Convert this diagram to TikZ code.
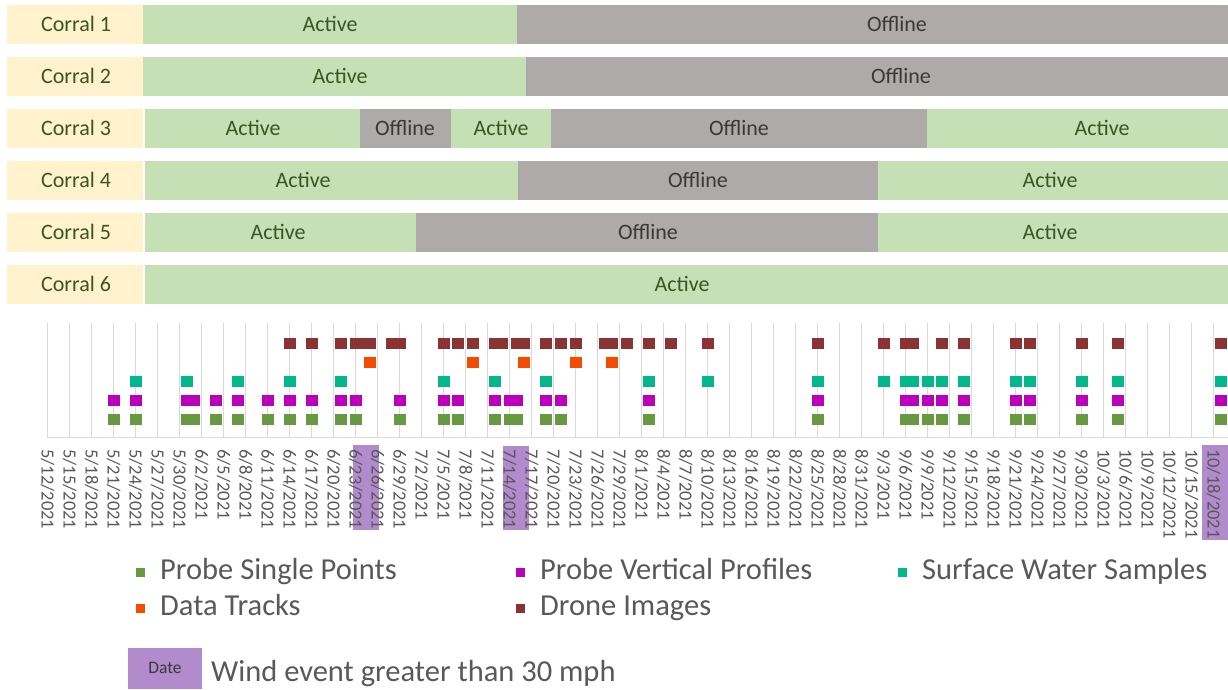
\documentclass[tikz,border=0pt]{standalone}
\usepackage{fontspec}
\setmainfont{Carlito}
\definecolor{activeg}{RGB}{197,224,180}
\definecolor{offg}{RGB}{174,170,170}
\definecolor{labely}{RGB}{255,242,204}
\definecolor{darkg}{RGB}{56,87,35}
\definecolor{offtxt}{RGB}{59,56,56}
\definecolor{cSingle}{RGB}{104,152,64}
\definecolor{cVert}{RGB}{187,0,187}
\definecolor{cSurf}{RGB}{0,184,138}
\definecolor{cTrack}{RGB}{245,75,0}
\definecolor{cDrone}{RGB}{139,51,51}
\definecolor{gridc}{RGB}{217,217,217}
\definecolor{axtxt}{RGB}{89,89,89}
\definecolor{windc}{RGB}{177,139,204}
\newcommand{\actseg}[4]{% row top, x1, x2, text x
  \fill[activeg] (#2,#1) rectangle (#3,#1+39);
  \node[bartext, text=darkg] (seg-#1-#2) at (#4,#1+19.5) {Active};}
\newcommand{\offseg}[4]{% row top, x1, x2, text x
  \fill[offg] (#2,#1) rectangle (#3,#1+39);
  \node[bartext, text=offtxt] (seg-#1-#2) at (#4,#1+19.5) {Offline};}
\begin{document}
\begin{tikzpicture}[x=1pt,y=-1pt,
  bartext/.style={font=\fontsize{22}{22}\selectfont, inner sep=0pt},
  datelab/.style={rotate=-90, anchor=west, inner sep=0pt, text=axtxt, font=\fontsize{18.5}{18.5}\selectfont},
  legtext/.style={anchor=base west, inner sep=0pt, text=axtxt, font=\fontsize{30.5}{30.5}\selectfont},
  gridline/.style={draw=gridc, line width=0.8pt}]
\useasboundingbox (0,0) rectangle (1228,689);
\fill[white] (0,0) rectangle (1228,689);

% ---- corral label boxes
\foreach \i in {1,...,6}{
  \pgfmathsetmacro{\top}{4.5+52*(\i-1)}
  \fill[labely] (7,\top) rectangle (143,\top+39);
  \node[bartext, text=darkg] (corral\i) at (76,\top+19.5) {Corral \i};
}
% ---- row 1
\actseg{4.5}{143}{517}{330}
\offseg{4.5}{517}{1228}{897}
% ---- row 2
\actseg{56.5}{143}{526}{340}
\offseg{56.5}{526}{1228}{901}
% ---- row 3
\actseg{108.5}{145}{360}{253}
\offseg{108.5}{360}{451}{405}
\actseg{108.5}{451}{551}{501}
\offseg{108.5}{551}{927}{739}
\actseg{108.5}{927}{1228}{1102}
% ---- row 4
\actseg{160.5}{145}{518}{303}
\offseg{160.5}{518}{878}{698}
\actseg{160.5}{878}{1228}{1050}
% ---- row 5
\actseg{212.5}{145}{416}{278}
\offseg{212.5}{416}{878}{648}
\actseg{212.5}{878}{1228}{1050}
% ---- row 6
\actseg{264.5}{145}{1228}{682}

% ---- wind event highlights
\fill[windc] (353,445) rectangle (379,530);
\fill[windc] (503,445.5) rectangle (529,530);
\fill[windc] (1202,445) rectangle (1228,540);

% ---- grid and date labels
\foreach \lab [count=\i from 0] in {5/12,5/15,5/18,5/21,5/24,5/27,5/30,6/2,6/5,6/8,6/11,6/14,6/17,6/20,6/23,6/26,6/29,7/2,7/5,7/8,7/11,7/14,7/17,7/20,7/23,7/26,7/29,8/1,8/4,8/7,8/10,8/13,8/16,8/19,8/22,8/25,8/28,8/31,9/3,9/6,9/9,9/12,9/15,9/18,9/21,9/24,9/27,9/30,10/3,10/6,10/9,10/12,10/15,10/18}{
  \pgfmathsetmacro{\xx}{47.7+22*\i}
  \draw[gridline] (\xx,323) -- (\xx,437);
  \node[datelab] (date\i) at (\xx,449) {\lab/2021};
}
\draw[draw=gridc, line width=1.6pt] (47,437.5) -- (1228,437.5);

% ---- markers
\foreach \d in {9,12,19,20,23,26,30,33,36,40,42,48,54,56,61,63,64,68,70,82,105,117,118,120,122,125,132,134,141,146,160}{
  \fill[cSingle] ({47.7+7.3333*\d-6},414.2) rectangle ++(12,11);
  \fill[cVert] ({47.7+7.3333*\d-6},395.2) rectangle ++(12,11);
}
\foreach \d in {12,19,26,33,40,54,61,68,82,90,105,114,117,118,120,122,125,132,134,141,146,160}{
  \fill[cSurf] ({47.7+7.3333*\d-6},376.2) rectangle ++(12,11);
}
\foreach \d in {44,58,65,72,77}{
  \fill[cTrack] ({47.7+7.3333*\d-6},357.2) rectangle ++(12,11);
}
\foreach \d in {33,36,40,42,43,44,47,48,54,56,58,61,62,64,65,68,70,72,76,77,79,82,85,90,105,114,117,118,122,125,132,134,141,146,160}{
  \fill[cDrone] ({47.7+7.3333*\d-6},338) rectangle ++(12,11);
}

% ---- legend
\fill[cSingle] (136,568) rectangle ++(9,9);
\node[legtext] (lg1) at (160,579.5) {Probe Single Points};
\fill[cVert] (516,568) rectangle ++(9,9);
\node[legtext] (lg2) at (540,579.5) {Probe Vertical Profiles};
\fill[cSurf] (898,568) rectangle ++(9,9);
\node[legtext] (lg3) at (922,579.5) {Surface Water Samples};
\fill[cTrack] (136,604) rectangle ++(9,9);
\node[legtext] (lg4) at (160,615) {Data Tracks};
\fill[cDrone] (516,604) rectangle ++(9,9);
\node[legtext] (lg5) at (540,615) {Drone Images};

\fill[windc] (128,648) rectangle (202,689);
\node[anchor=base, inner sep=0pt, text=offtxt, font=\fontsize{17.5}{17.5}\selectfont] (datebox) at (165,673) {Date};
\node[legtext] (lg6) at (211,681) {Wind event greater than 30 mph};
\end{tikzpicture}
\end{document}
